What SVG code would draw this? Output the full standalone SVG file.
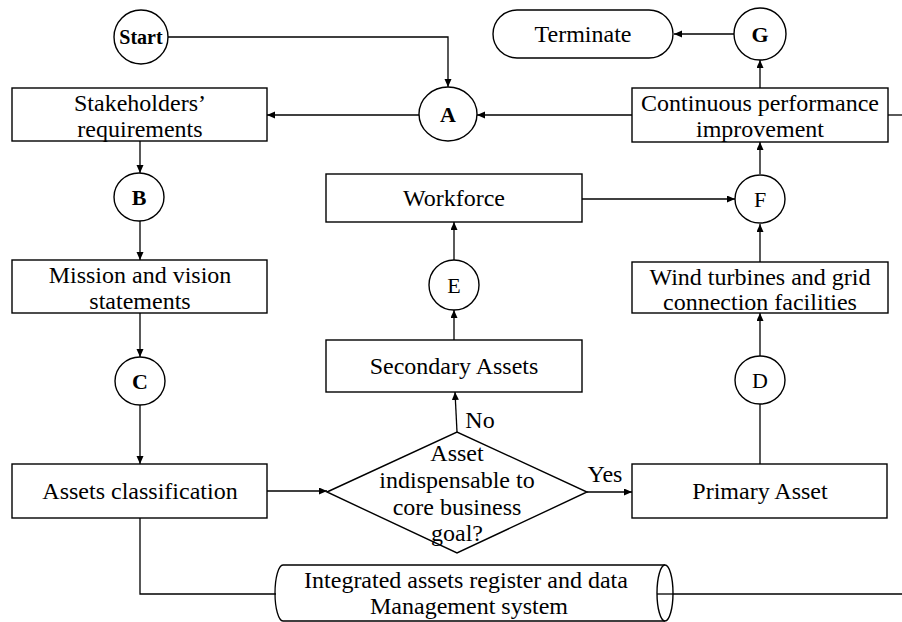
<svg xmlns="http://www.w3.org/2000/svg" width="902" height="622" viewBox="0 0 902 622">
  <defs>
    <marker id="arrow" markerUnits="userSpaceOnUse" markerWidth="9" markerHeight="8" refX="8" refY="3.5" orient="auto">
      <path d="M0,0 L8,3.5 L0,7 z" fill="#000"/>
    </marker>
    <style>
      .shape { fill: #fff; stroke: #000; stroke-width: 1.4; }
      .edge { fill: none; stroke: #000; stroke-width: 1.3; }
      .arr { marker-end: url(#arrow); }
      text { font-family: "Liberation Serif", "Times New Roman", serif; font-size: 24px; fill: #000; text-anchor: middle; }
      .b { font-weight: bold; }
      .lbl { font-size: 22px; }
      .st { font-size: 20px; font-weight: bold; }
    </style>
  </defs>
  <rect width="902" height="622" fill="#fff"/>

  <!-- connectors -->
  <g id="connectors">
    <path class="edge arr" d="M168,37 H448 V87"/>
    <path class="edge arr" d="M419,115 H267"/>
    <path class="edge arr" d="M140,141 V173"/>
    <path class="edge arr" d="M140,221 V260"/>
    <path class="edge arr" d="M140,313 V357"/>
    <path class="edge arr" d="M140,405 V464"/>
    <path class="edge arr" d="M267,491 H327"/>
    <path class="edge arr" d="M457,432 L455,392"/>
    <path class="edge arr" d="M587,492 H632"/>
    <path class="edge arr" d="M454,340 V310"/>
    <path class="edge arr" d="M454,260 V222"/>
    <path class="edge arr" d="M582,199 H735"/>
    <path class="edge" d="M760,464 V404"/>
    <path class="edge arr" d="M760,356 V313"/>
    <path class="edge arr" d="M760,262 V224"/>
    <path class="edge arr" d="M760,174 V142"/>
    <path class="edge arr" d="M632,115 H477"/>
    <path class="edge arr" d="M760,88 V60"/>
    <path class="edge arr" d="M734,34 H674"/>
    <path class="edge" d="M140,518 V594 H276"/>
    <path class="edge" d="M657,594 H902"/>
    <path class="edge" d="M888,115 H902"/>
  </g>

  <g id="start">
    <circle class="shape" cx="141" cy="37" r="27"/>
    <text class="st" x="141" y="44">Start</text>
  </g>

  <g id="terminate">
    <rect class="shape" x="493" y="10" width="180" height="48" rx="24" ry="24"/>
    <text x="583" y="42">Terminate</text>
  </g>

  <g id="node-a">
    <ellipse class="shape" cx="448" cy="114" rx="29" ry="27"/>
    <text class="lbl b" x="448" y="122">A</text>
  </g>

  <g id="node-g">
    <circle class="shape" cx="760" cy="34" r="26"/>
    <text class="lbl b" x="760" y="42">G</text>
  </g>

  <g id="stakeholders">
    <rect class="shape" x="12" y="88" width="255" height="53"/>
    <text x="140" y="111">Stakeholders’</text>
    <text x="140" y="137">requirements</text>
  </g>

  <g id="node-b">
    <ellipse class="shape" cx="139" cy="197" rx="25" ry="24"/>
    <text class="lbl b" x="139" y="205">B</text>
  </g>

  <g id="mission">
    <rect class="shape" x="12" y="260" width="255" height="53"/>
    <text x="140" y="283">Mission and vision</text>
    <text x="140" y="309">statements</text>
  </g>

  <g id="node-c">
    <ellipse class="shape" cx="140" cy="381" rx="25" ry="24"/>
    <text class="lbl b" x="140" y="389">C</text>
  </g>

  <g id="assets-classification">
    <rect class="shape" x="12" y="464" width="255" height="54"/>
    <text x="140" y="499">Assets classification</text>
  </g>

  <g id="decision">
    <path class="shape" d="M327,492 L457,432 L587,492 L457,553 Z"/>
    <text x="457" y="461">Asset</text>
    <text x="457" y="488">indispensable to</text>
    <text x="457" y="515">core business</text>
    <text x="457" y="541">goal?</text>
    <text x="480" y="428">No</text>
    <text x="605" y="482">Yes</text>
  </g>

  <g id="secondary-assets">
    <rect class="shape" x="326" y="340" width="256" height="52"/>
    <text x="454" y="374">Secondary Assets</text>
  </g>

  <g id="node-e">
    <ellipse class="shape" cx="454" cy="285" rx="25" ry="25"/>
    <text class="lbl" x="454" y="293">E</text>
  </g>

  <g id="workforce">
    <rect class="shape" x="326" y="174" width="256" height="48"/>
    <text x="454" y="206">Workforce</text>
  </g>

  <g id="node-f">
    <ellipse class="shape" cx="760" cy="199" rx="25" ry="24"/>
    <text class="lbl" x="760" y="207">F</text>
  </g>

  <g id="continuous-improvement">
    <rect class="shape" x="632" y="88" width="256" height="54"/>
    <text x="760" y="111">Continuous performance</text>
    <text x="760" y="137">improvement</text>
  </g>

  <g id="wind-turbines">
    <rect class="shape" x="632" y="262" width="256" height="51"/>
    <text x="760" y="285">Wind turbines and grid</text>
    <text x="760" y="310">connection facilities</text>
  </g>

  <g id="node-d">
    <ellipse class="shape" cx="760" cy="380" rx="25" ry="24"/>
    <text class="lbl" x="760" y="388">D</text>
  </g>

  <g id="primary-asset">
    <rect class="shape" x="632" y="464" width="255" height="54"/>
    <text x="760" y="499">Primary Asset</text>
  </g>

  <g id="assets-register">
    <path d="M283,565 H665 V621 H283 Z" fill="#fff"/>
    <path class="edge" d="M283,565 H665 M283,621 H665"/>
    <path class="edge" d="M283,565 A8,28 0 0 0 283,621"/>
    <ellipse class="shape" cx="665" cy="593" rx="8" ry="28"/>
    <path class="edge" d="M657,594 H673"/>
    <text x="466" y="588">Integrated assets register and data</text>
    <text x="469" y="614">Management system</text>
  </g>
</svg>
